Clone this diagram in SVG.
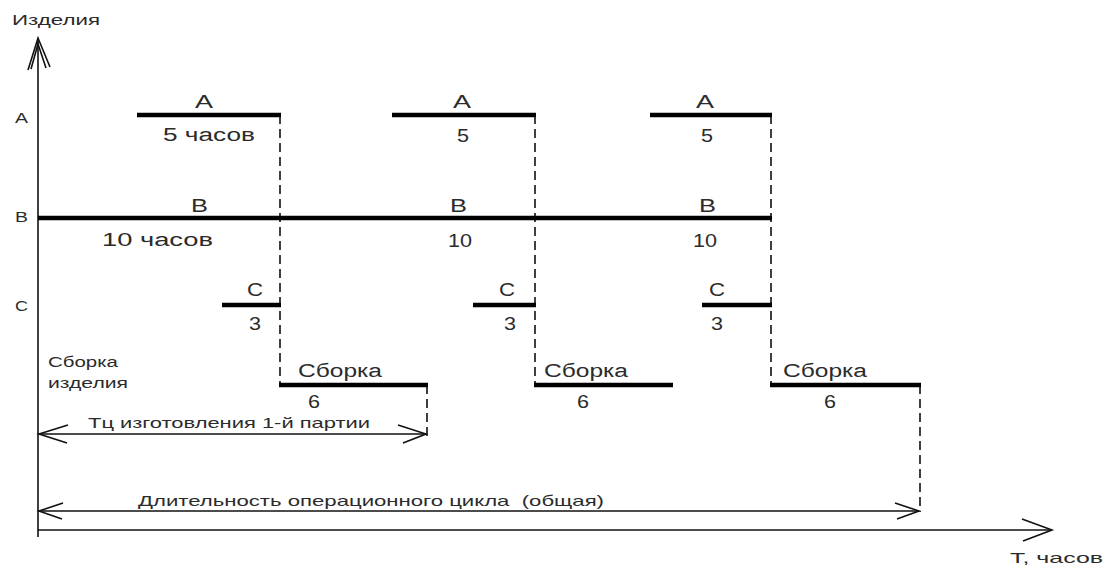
<svg xmlns="http://www.w3.org/2000/svg" width="1112" height="574" viewBox="0 0 1112 574">
<style>
text{font-family:"Liberation Sans",Arial,sans-serif;fill:#2b2b2b}
.lb{font-size:18px}
.sm{font-size:14px}
.md{font-size:15px}
.pre{white-space:pre}
.bar{stroke:#000;stroke-width:4.5;fill:none}
.ax{stroke:#111;stroke-width:1.6;fill:none}
.dash{stroke:#111;stroke-width:1.6;stroke-dasharray:9 5;fill:none}
.head{stroke:#111;stroke-width:1.6;fill:none}
</style>
<rect width="1112" height="574" fill="#fff"/>

<g id="axes">
  <line class="ax" x1="38" y1="38" x2="38" y2="537"/>
  <path class="head" d="M28,70 L38,38 L50,67 M31,69 L38,44 L46,68"/>
  <line class="ax" x1="38" y1="530" x2="1052" y2="530"/>
  <path class="head" d="M1022,519 L1052,530 L1023,541"/>
  <text class="sm" x="12" y="25" textLength="88" lengthAdjust="spacingAndGlyphs">Изделия</text>
  <text class="md" x="1010" y="563" textLength="93" lengthAdjust="spacingAndGlyphs">T, часов</text>
  <text class="sm" x="15" y="123" textLength="13" lengthAdjust="spacingAndGlyphs">A</text>
  <text class="sm" x="15" y="222" textLength="13" lengthAdjust="spacingAndGlyphs">B</text>
  <text class="sm" x="15" y="311" textLength="13" lengthAdjust="spacingAndGlyphs">C</text>
  <text class="sm" x="48" y="367" textLength="70" lengthAdjust="spacingAndGlyphs">Сборка</text>
  <text class="sm" x="48" y="388" textLength="80" lengthAdjust="spacingAndGlyphs">изделия</text>
</g>

<g id="connectors">
  <line class="dash" x1="280" y1="115" x2="280" y2="385"/>
  <line class="dash" x1="535" y1="115" x2="535" y2="385"/>
  <line class="dash" x1="771" y1="115" x2="771" y2="385"/>
  <line class="dash" x1="427" y1="385" x2="427" y2="440"/>
  <line class="dash" x1="920" y1="385" x2="920" y2="512"/>
</g>

<g id="row-A">
  <line class="bar" x1="137" y1="115" x2="281" y2="115"/>
  <line class="bar" x1="392" y1="115" x2="536" y2="115"/>
  <line class="bar" x1="650" y1="115" x2="772" y2="115"/>
  <text class="lb" x="195" y="108" textLength="18" lengthAdjust="spacingAndGlyphs">A</text>
  <text class="lb" x="163" y="141" textLength="92" lengthAdjust="spacingAndGlyphs">5 часов</text>
  <text class="lb" x="453" y="108" textLength="18" lengthAdjust="spacingAndGlyphs">A</text>
  <text class="lb" x="457" y="142" textLength="12" lengthAdjust="spacingAndGlyphs">5</text>
  <text class="lb" x="696" y="108" textLength="18" lengthAdjust="spacingAndGlyphs">A</text>
  <text class="lb" x="701" y="142" textLength="12" lengthAdjust="spacingAndGlyphs">5</text>
</g>

<g id="row-B">
  <line class="bar" x1="38" y1="218" x2="772" y2="218"/>
  <text class="lb" x="191" y="212" textLength="17" lengthAdjust="spacingAndGlyphs">B</text>
  <text class="lb" x="102" y="246" textLength="111" lengthAdjust="spacingAndGlyphs">10 часов</text>
  <text class="lb" x="450" y="212" textLength="17" lengthAdjust="spacingAndGlyphs">B</text>
  <text class="lb" x="448" y="247" textLength="24" lengthAdjust="spacingAndGlyphs">10</text>
  <text class="lb" x="699" y="212" textLength="17" lengthAdjust="spacingAndGlyphs">B</text>
  <text class="lb" x="693" y="247" textLength="24" lengthAdjust="spacingAndGlyphs">10</text>
</g>

<g id="row-C">
  <line class="bar" x1="222" y1="305" x2="281" y2="305"/>
  <line class="bar" x1="473" y1="305" x2="536" y2="305"/>
  <line class="bar" x1="702" y1="305" x2="772" y2="305"/>
  <text class="lb" x="247" y="296" textLength="16" lengthAdjust="spacingAndGlyphs">C</text>
  <text class="lb" x="249" y="330" textLength="12" lengthAdjust="spacingAndGlyphs">3</text>
  <text class="lb" x="499" y="296" textLength="16" lengthAdjust="spacingAndGlyphs">C</text>
  <text class="lb" x="504" y="330" textLength="12" lengthAdjust="spacingAndGlyphs">3</text>
  <text class="lb" x="709" y="296" textLength="16" lengthAdjust="spacingAndGlyphs">C</text>
  <text class="lb" x="711" y="330" textLength="12" lengthAdjust="spacingAndGlyphs">3</text>
</g>

<g id="row-assembly">
  <line class="bar" x1="279" y1="385" x2="428" y2="385"/>
  <line class="bar" x1="534" y1="385" x2="673" y2="385"/>
  <line class="bar" x1="770" y1="385" x2="921" y2="385"/>
  <text class="lb" x="298" y="377" textLength="84" lengthAdjust="spacingAndGlyphs">Сборка</text>
  <text class="lb" x="308" y="408" textLength="12" lengthAdjust="spacingAndGlyphs">6</text>
  <text class="lb" x="544" y="377" textLength="84" lengthAdjust="spacingAndGlyphs">Сборка</text>
  <text class="lb" x="577" y="408" textLength="12" lengthAdjust="spacingAndGlyphs">6</text>
  <text class="lb" x="783" y="377" textLength="84" lengthAdjust="spacingAndGlyphs">Сборка</text>
  <text class="lb" x="824" y="408" textLength="12" lengthAdjust="spacingAndGlyphs">6</text>
</g>

<g id="dim-first-batch">
  <line class="ax" x1="38" y1="434" x2="426" y2="434"/>
  <path class="head" d="M68,425 L39,434 L67,443"/>
  <path class="head" d="M398,425 L426,434 L403,443"/>
  <text class="md" x="88" y="428" textLength="282" lengthAdjust="spacingAndGlyphs">Тц изготовления 1-й партии</text>
</g>

<g id="dim-total">
  <line class="ax" x1="38" y1="511" x2="919" y2="511"/>
  <path class="head" d="M63,503 L39,511 L62,519"/>
  <path class="head" d="M895,503 L919,511 L897,519"/>
  <text class="md pre" x="138" y="506" textLength="466" lengthAdjust="spacingAndGlyphs">Длительность операционного цикла  (общая)</text>
</g>
</svg>
